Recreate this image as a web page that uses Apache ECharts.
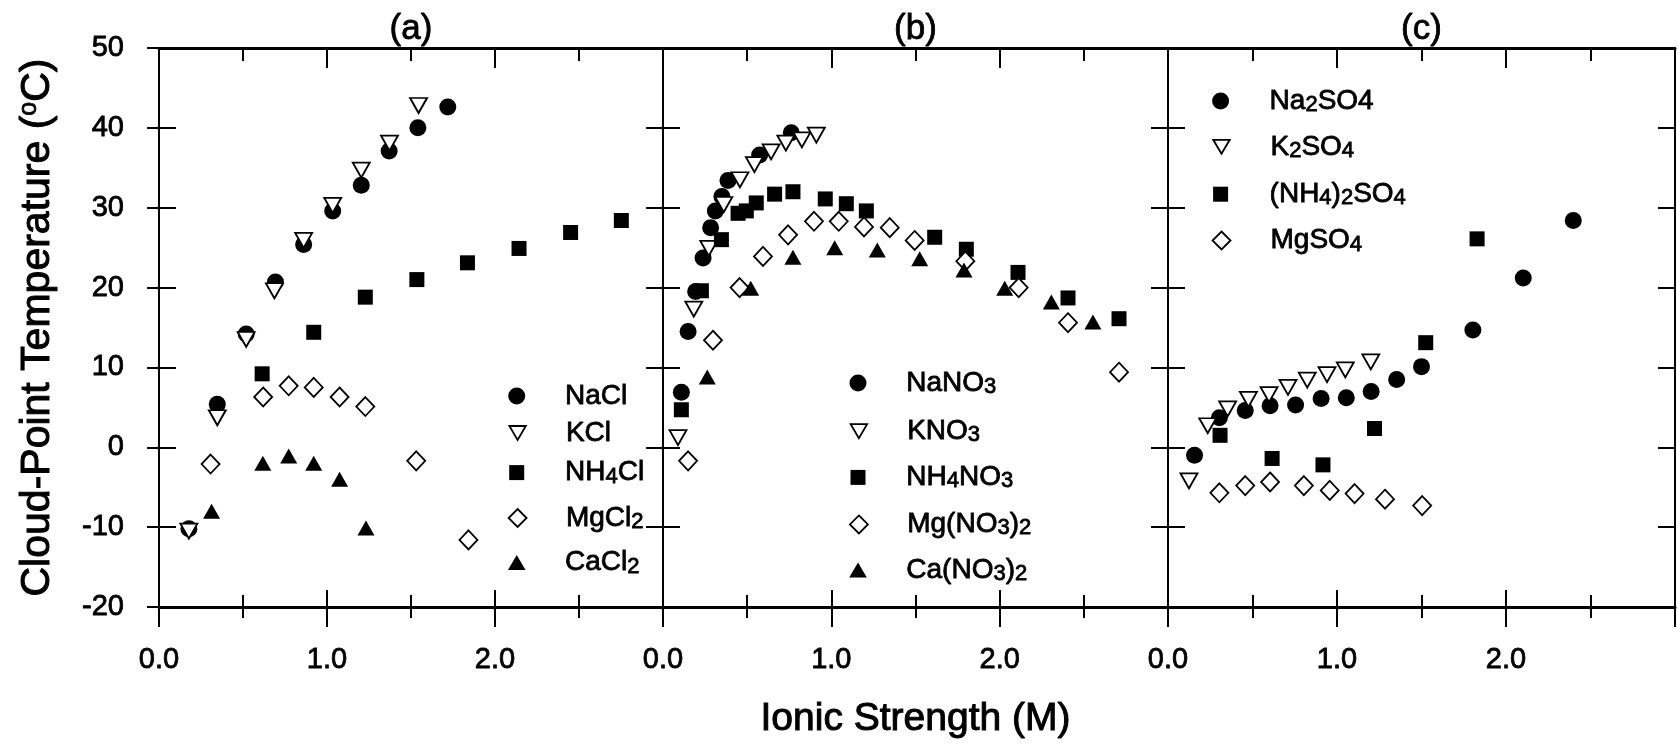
<!DOCTYPE html>
<html><head><meta charset="utf-8">
<script src="https://cdn.jsdelivr.net/npm/echarts@6/dist/echarts.min.js"></script>
<style>html,body{margin:0;padding:0;background:#fff}#c{width:1678px;height:744px}</style>
</head><body><div id="c"></div>
<script>
const FONT = 'Liberation Sans, Arial, Helvetica, sans-serif';

// ---- Data: [ionic strength (M), cloud-point temperature (°C)] ----
// Panel (a) chlorides
const NaCl  = [[0.178,-10.2],[0.347,5.4],[0.519,14.2],[0.693,20.7],[0.861,25.4],[1.034,29.6],[1.204,32.8],[1.370,37.1],[1.541,40.0],[1.719,42.6]];
const KCl   = [[0.178,-10.5],[0.347,3.7],[0.519,13.5],[0.687,19.6],[0.861,25.9],[1.034,30.3],[1.204,34.7],[1.372,38.1],[1.545,42.8]];
const NH4Cl = [[0.614,9.2],[0.921,14.4],[1.228,18.8],[1.535,21.0],[1.836,23.1],[2.143,24.9],[2.450,26.9],[2.752,28.4]];
const MgCl2 = [[0.307,-2.1],[0.620,6.3],[0.772,7.7],[0.921,7.5],[1.075,6.3],[1.228,5.1],[1.531,-1.7],[1.842,-11.6]];
const CaCl2 = [[0.313,-8.0],[0.618,-2.0],[0.772,-1.1],[0.921,-2.0],[1.075,-4.0],[1.232,-10.1]];
// Panel (b) nitrates
const NaNO3   = [[0.109,6.9],[0.149,14.5],[0.194,19.5],[0.238,23.7],[0.283,27.5],[0.311,29.6],[0.350,31.4],[0.386,33.4],[0.574,36.6],[0.762,39.4]];
const KNO3    = [[0.089,1.2],[0.183,17.3],[0.272,24.9],[0.361,30.4],[0.457,33.5],[0.543,35.4],[0.642,37.0],[0.730,38.1],[0.825,38.5],[0.911,39.1]];
const NH4NO3  = [[0.109,4.7],[0.228,19.6],[0.347,26.0],[0.446,29.3],[0.495,29.6],[0.554,30.6],[0.663,31.7],[0.772,32.0],[0.964,31.1],[1.089,30.5],[1.208,29.6],[1.614,26.3],[1.802,24.8],[2.109,21.9],[2.406,18.7],[2.709,16.1]];
const MgNO32  = [[0.149,-1.7],[0.297,13.4],[0.455,20.0],[0.594,23.9],[0.743,26.6],[0.897,28.3],[1.044,28.3],[1.194,27.6],[1.347,27.5],[1.495,25.9],[1.796,23.3],[2.113,20.0],[2.406,15.6],[2.709,9.4]];
const CaNO32  = [[0.263,8.8],[0.521,19.9],[0.772,23.8],[1.020,25.0],[1.273,24.7],[1.525,23.6],[1.788,22.2],[2.030,19.9],[2.307,18.2],[2.554,15.7]];
// Panel (c) sulfates
const Na2SO4   = [[0.157,-1.0],[0.304,3.7],[0.457,4.6],[0.604,5.2],[0.755,5.3],[0.906,6.1],[1.055,6.2],[1.202,7.0],[1.353,8.5],[1.500,10.1],[1.804,14.7],[2.102,21.2],[2.398,28.4]];
const K2SO4    = [[0.124,-4.2],[0.235,2.7],[0.353,4.8],[0.476,6.0],[0.598,6.6],[0.710,7.5],[0.824,8.4],[0.941,9.1],[1.049,9.7],[1.200,10.7]];
const NH42SO4  = [[0.308,1.5],[0.616,-1.4],[0.917,-2.2],[1.222,2.35],[1.525,13.1],[1.829,26.1]];
const MgSO4    = [[0.304,-5.7],[0.457,-4.8],[0.604,-4.35],[0.804,-4.8],[0.957,-5.4],[1.104,-5.8],[1.284,-6.5],[1.504,-7.3]];

// ---- Text ----
const panelTitles = ['(a)', '(b)', '(c)'];
const xTickLabels = ['0.0', '1.0', '2.0'];
const xAxisTitle = 'Ionic Strength (M)';
const yAxisTitle = 'Cloud-Point Temperature ({sup|o}C)';
const legendLabels = {
  'NaCl': 'NaCl', 'KCl': 'KCl', 'NH4Cl': 'NH{s|4}Cl', 'MgCl2': 'MgCl{s|2}', 'CaCl2': 'CaCl{s|2}',
  'NaNO3': 'NaNO{s|3}', 'KNO3': 'KNO{s|3}', 'NH4NO3': 'NH{s|4}NO{s|3}', 'Mg(NO3)2': 'Mg(NO{s|3}){s|2}', 'Ca(NO3)2': 'Ca(NO{s|3}){s|2}',
  'Na2SO4': 'Na{s|2}SO4', 'K2SO4': 'K{s|2}SO{s|4}', '(NH4)2SO4': '(NH{s|4}){s|2}SO{s|4}', 'MgSO4': 'MgSO{s|4}'
};

// ---- Symbol styles (lh = legend icon height, lw = resulting legend icon width) ----
const SYM = {
  circle:  {symbol: 'circle', size: 17, fill: '#000', hollow: false, lh: 17, lw: 17},
  down:    {symbol: 'path://M0,0L20,0L10,17Z', size: [17, 15], fill: '#fff', hollow: true, lh: 14, lw: 16.5},
  square:  {symbol: 'path://M0,0L10,0L10,10L0,10Z', size: 15, fill: '#000', hollow: false, lh: 15, lw: 15},
  diamond: {symbol: 'path://M5,0L10,5L5,10L0,5Z', size: [18, 19], fill: '#fff', hollow: true, lh: 18, lw: 18},
  up:      {symbol: 'path://M10,0L20,17L0,17Z', size: [17, 15], fill: '#000', hollow: false, lh: 15, lw: 17.6}
};

// ---- Layout ----
const TOP = 48, HEIGHT = 559;
const TB = {textBorderColor: '#000', textBorderWidth: 0.8};
const TBH = {textBorderColor: '#000', textBorderWidth: 1.0};
const panels = [
  {left: 159, width: 504, legendX: 516.7, legendTextX: 565,
   series: [['NaCl', NaCl, 'circle', 396], ['KCl', KCl, 'down', 433], ['NH4Cl', NH4Cl, 'square', 472.6], ['MgCl2', MgCl2, 'diamond', 518], ['CaCl2', CaCl2, 'up', 562.6]]},
  {left: 663, width: 505, legendX: 858, legendTextX: 906.3,
   series: [['NaNO3', NaNO3, 'circle', 383], ['KNO3', KNO3, 'down', 431.2], ['NH4NO3', NH4NO3, 'square', 477.4], ['Mg(NO3)2', MgNO32, 'diamond', 524.4], ['Ca(NO3)2', CaNO32, 'up', 570]]},
  {left: 1168, width: 507, legendX: 1220.6, legendTextX: 1269.6,
   series: [['Na2SO4', Na2SO4, 'circle', 101], ['K2SO4', K2SO4, 'down', 146.8], ['(NH4)2SO4', NH42SO4, 'square', 194.2], ['MgSO4', MgSO4, 'diamond', 240.5]]}
];

const grid = [], xAxis = [], yAxis = [], series = [], legend = [];

panels.forEach((p, i) => {
  grid.push({left: p.left, top: TOP, width: p.width, height: HEIGHT, containLabel: false});
  grid.push({left: p.left, top: TOP, width: p.width, height: HEIGHT, containLabel: false});
  const gMain = 2 * i, gOver = 2 * i + 1;
  const xBase = {type: 'value', min: 0, max: 3, interval: 1, splitLine: {show: false}, minorSplitLine: {show: false}};
  const yBase = {type: 'value', min: -20, max: 50, interval: 10, splitLine: {show: false}};
  // bottom main axis (outward ticks + labels)
  xAxis.push(Object.assign({}, xBase, {
    gridIndex: gMain, position: 'bottom',
    axisLine: {show: true, onZero: false, lineStyle: {color: '#000', width: 3}},
    axisTick: {show: true, inside: false, length: 20, lineStyle: {color: '#000', width: 2}},
    minorTick: {show: true, splitNumber: 2, length: 11, lineStyle: {color: '#000', width: 2}},
    axisLabel: Object.assign({show: true, margin: 38, fontSize: 29, fontFamily: FONT, color: '#000',
      formatter: v => (v < 2.5 ? xTickLabels[Math.round(v)] : '')}, TB),
    name: i === 1 ? xAxisTitle : '', nameLocation: 'middle', nameGap: 92,
    nameTextStyle: Object.assign({fontSize: 39, fontFamily: FONT, color: '#000', lineHeight: 40}, TBH)
  }));
  // top axis (inward ticks + panel title)
  xAxis.push(Object.assign({}, xBase, {
    gridIndex: gMain, position: 'top',
    axisLine: {show: true, onZero: false, lineStyle: {color: '#000', width: 3}},
    axisTick: {show: true, inside: true, length: 20, lineStyle: {color: '#000', width: 2}},
    minorTick: {show: true, splitNumber: 2, length: 13, lineStyle: {color: '#000', width: 2}},
    axisLabel: {show: false},
    name: panelTitles[i], nameLocation: 'middle', nameGap: 1,
    nameTextStyle: Object.assign({fontSize: 35, fontFamily: FONT, color: '#000', lineHeight: 36}, TB)
  }));
  // bottom overlay axis (inward ticks)
  xAxis.push(Object.assign({}, xBase, {
    gridIndex: gOver, position: 'bottom',
    axisLine: {show: false, onZero: false},
    axisTick: {show: true, inside: true, length: 17, lineStyle: {color: '#000', width: 2}},
    minorTick: {show: true, splitNumber: 2, length: 12, lineStyle: {color: '#000', width: 2}},
    axisLabel: {show: false}
  }));
  // left main axis (outward ticks, labels on panel a)
  yAxis.push(Object.assign({}, yBase, {
    gridIndex: gMain, position: 'left',
    axisLine: {show: true, onZero: false, lineStyle: {color: '#000', width: 2}},
    axisTick: {show: true, inside: false, length: 12, lineStyle: {color: '#000', width: 2}},
    axisLabel: Object.assign({show: i === 0, margin: 35, fontSize: 29, fontFamily: FONT, color: '#000'}, TB),
    name: i === 0 ? yAxisTitle : '', nameLocation: 'middle', nameGap: 100,
    nameTextStyle: Object.assign({fontSize: 41, fontFamily: FONT, color: '#000', lineHeight: 42,
      rich: {sup: Object.assign({fontSize: 25, lineHeight: 25, verticalAlign: 'top', fontFamily: FONT, color: '#000'}, TB)}}, TBH)
  }));
  // right axis (inward ticks)
  yAxis.push(Object.assign({}, yBase, {
    gridIndex: gMain, position: 'right',
    axisLine: {show: true, onZero: false, lineStyle: {color: '#000', width: 2}},
    axisTick: {show: true, inside: true, length: 17, lineStyle: {color: '#000', width: 2}},
    axisLabel: {show: false}
  }));
  // left overlay axis (inward ticks)
  yAxis.push(Object.assign({}, yBase, {
    gridIndex: gOver, position: 'left',
    axisLine: {show: false, onZero: false},
    axisTick: {show: true, inside: true, length: 17, lineStyle: {color: '#000', width: 2}},
    axisLabel: {show: false}
  }));

  const itemW = 2 * (p.legendTextX - p.legendX - 5);
  p.series.forEach(([name, data, symKey, legendY]) => {
    const s = SYM[symKey];
    const itemStyle = {color: s.fill, borderColor: '#000', borderWidth: s.hollow ? 1.8 : 0, opacity: 1};
    series.push({
      type: 'scatter', name, data, xAxisIndex: 3 * i, yAxisIndex: 3 * i,
      symbol: s.symbol, symbolSize: s.size, itemStyle,
      emphasis: {disabled: true}
    });
    legend.push({
      show: true, orient: 'horizontal', left: p.legendX - s.lw / 2, top: legendY - 15, padding: 0,
      itemWidth: itemW, itemHeight: s.lh, itemGap: 0, selectedMode: false, symbolKeepAspect: true,
      data: [{name, icon: s.symbol}],
      itemStyle: {color: s.fill, borderColor: '#000', borderWidth: s.hollow ? 1.8 : 0},
      formatter: n => legendLabels[n],
      textStyle: Object.assign({fontSize: 28, fontFamily: FONT, color: '#000', lineHeight: 30,
        rich: {s: Object.assign({fontSize: 22, lineHeight: 11, verticalAlign: 'bottom', fontFamily: FONT, color: '#000'}, TB)}}, TB)
    });
  });
});

const chart = echarts.init(document.getElementById('c'), null, {renderer: 'canvas'});
chart.setOption({
  backgroundColor: '#fff',
  animation: false,
  grid, xAxis, yAxis, series, legend
});
</script>
</body></html>
